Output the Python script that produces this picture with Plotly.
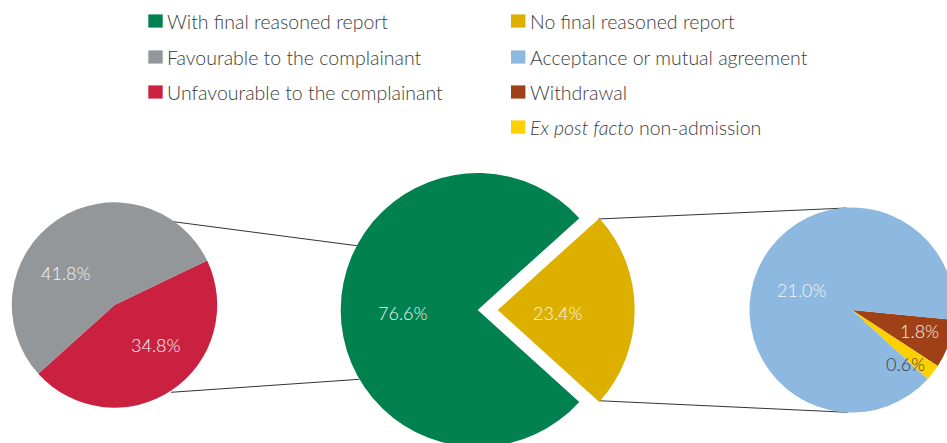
import plotly.graph_objects as go

# shares of closed complaints (%)
outcome_labels = ["With final reasoned report", "No final reasoned report"]
outcome_values = [76.6, 23.4]

reasoned_labels = ["Favourable to the complainant", "Unfavourable to the complainant"]
reasoned_values = [41.8, 34.8]

other_labels = ["Acceptance or mutual agreement", "Withdrawal", "Ex post facto non-admission"]
other_values = [21.0, 1.8, 0.6]

colors = {
    "With final reasoned report": "#00814F",
    "No final reasoned report": "#DDB000",
    "Favourable to the complainant": "#939799",
    "Unfavourable to the complainant": "#CB2141",
    "Acceptance or mutual agreement": "#8DB9E1",
    "Withdrawal": "#9F4016",
    "Ex post facto non-admission": "#FFD000",
}
legend_text = {k: k for k in colors}
legend_text["Ex post facto non-admission"] = "<i>Ex post facto</i> non-admission"

# canvas a bit larger than the window so the pies can run off the edges
W, H = 960, 470
FONT = "Lato"


def px(x):
    return x / W


def py(y):
    return 1 - y / H


def domain(cx, cy, r):
    return dict(x=[px(cx - r), px(cx + r)], y=[py(cy + r), py(cy - r)])


fig = go.Figure()

# left pie: reasoned report outcomes (drawn clockwise from the red slice)
fig.add_trace(go.Pie(
    labels=reasoned_labels[::-1], values=reasoned_values[::-1],
    marker=dict(colors=[colors[l] for l in reasoned_labels[::-1]], line=dict(width=0)),
    sort=False, direction="clockwise", rotation=64.4,
    textinfo="none", domain=domain(114.5, 305, 102.7),
    hovertemplate="%{label}: %{value}%<extra></extra>",
))

# centre pie with the "no report" slice pulled out
pull = 0.146
fig.add_trace(go.Pie(
    labels=outcome_labels[::-1], values=outcome_values[::-1],
    marker=dict(colors=[colors[l] for l in outcome_labels[::-1]], line=dict(width=0)),
    sort=False, direction="clockwise", rotation=47.9, pull=[pull, 0],
    textinfo="none", domain=domain(477.7, 310, 137 * (1 + pull)),
    hovertemplate="%{label}: %{value}%<extra></extra>",
))

# right pie: outcomes without a final reasoned report
order = [1, 2, 0]
fig.add_trace(go.Pie(
    labels=[other_labels[i] for i in order], values=[other_values[i] for i in order],
    marker=dict(colors=[colors[other_labels[i]] for i in order], line=dict(width=0)),
    sort=False, direction="clockwise", rotation=95.5,
    textinfo="none", domain=domain(852, 310, 102.5),
    hovertemplate="%{label}: %{value}%<extra></extra>",
))

# percentage labels
label_pos = {
    "Favourable to the complainant": (66.3, 273),
    "Unfavourable to the complainant": (155.8, 345),
    "With final reasoned report": (402.5, 312.5),
    "No final reasoned report": (558.3, 312.5),
    "Acceptance or mutual agreement": (802, 290.3),
    "Withdrawal": (919.2, 331.3),
    "Ex post facto non-admission": (905.8, 363.7),
}
all_values = dict(zip(outcome_labels + reasoned_labels + other_labels,
                      outcome_values + reasoned_values + other_values))
annotations = []
for name, (x, y) in label_pos.items():
    dark = name == "Ex post facto non-admission"
    annotations.append(dict(
        x=px(x), y=py(y), xref="paper", yref="paper", showarrow=False,
        text=f"{all_values[name]:.1f}%", xanchor="center", yanchor="middle",
        font=dict(family=FONT, size=18, weight=300, color="#3a3a3a" if dark else "#F4F4F4"),
    ))

# connector lines between the pies
connectors = [
    ((173.3, 221.7), (356.7, 245.7)),
    ((171.0, 392.3), (359.3, 379.3)),
    ((598.3, 219.0), (846.7, 208.0)),
    ((598.3, 400.7), (847.7, 412.3)),
]
shapes = []
for (x0, y0), (x1, y1) in connectors:
    shapes.append(dict(type="line", xref="paper", yref="paper", layer="below",
                       x0=px(x0), y0=py(y0), x1=px(x1), y1=py(y1),
                       line=dict(color="#333333", width=1)))

# hand-built two-column legend
legend_cols = [
    (148.3, ["With final reasoned report", "Favourable to the complainant",
             "Unfavourable to the complainant"]),
    (511.0, ["No final reasoned report", "Acceptance or mutual agreement",
             "Withdrawal", "Ex post facto non-admission"]),
]
row_y = [21, 57, 92, 127]
for x0, names in legend_cols:
    for yc, name in zip(row_y, names):
        shapes.append(dict(type="rect", xref="paper", yref="paper", line=dict(width=0),
                           x0=px(x0), x1=px(x0 + 14.4), y0=py(yc + 6.6), y1=py(yc - 6.6),
                           fillcolor=colors[name]))
        annotations.append(dict(
            x=px(x0 + 16.5), y=py(yc), xref="paper", yref="paper", showarrow=False,
            text=legend_text[name], xanchor="left", yanchor="middle",
            font=dict(family=FONT, size=19.5, weight=300, color="#3d3d3d"),
        ))

fig.update_layout(
    width=W, height=H, autosize=False,
    margin=dict(l=0, r=0, t=0, b=0),
    paper_bgcolor="white", plot_bgcolor="white",
    showlegend=False, shapes=shapes, annotations=annotations,
)

fig.write_html("out.html", config={"displayModeBar": False},
               post_script="document.body.style.margin='0';document.body.style.overflow='hidden';")
